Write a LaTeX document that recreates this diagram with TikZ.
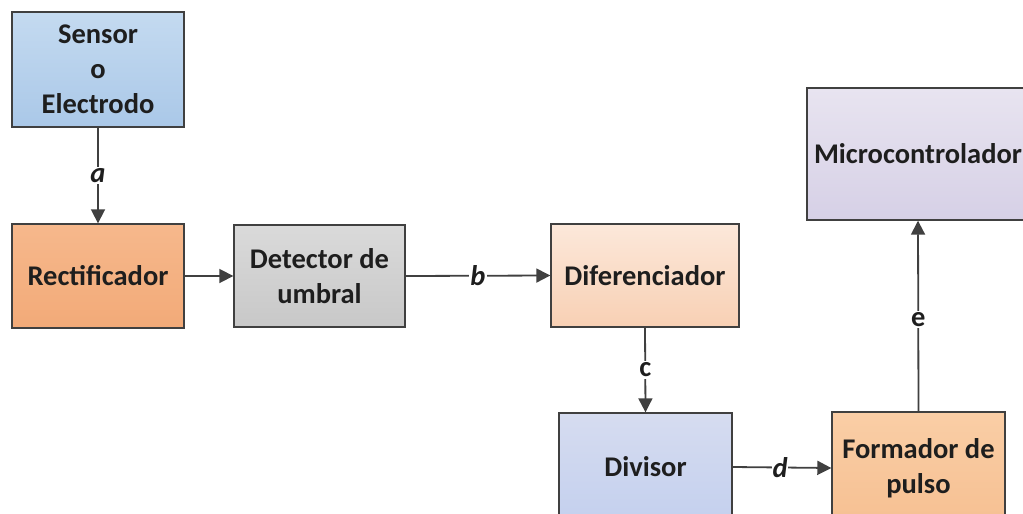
\documentclass[tikz,border=0pt]{standalone}
\usepackage{fontspec}
\setmainfont{Carlito}
\usetikzlibrary{arrows.meta,positioning}
\definecolor{edge}{HTML}{404040}
\definecolor{ink}{HTML}{1E1E1E}
\tikzset{
  block/.style={draw=edge, line width=1.4pt, inner sep=0pt, align=center,
    font=\fontsize{28.5}{35}\selectfont\bfseries, text=ink},
  link/.style={draw=edge, line width=1.8pt, -{Triangle[length=14pt,width=14pt]}},
  tag/.style={fill=white, inner sep=1.5pt, text=ink,
    font=\fontsize{28.5}{35}\selectfont\bfseries},
  itag/.style={tag, font=\fontsize{28.5}{35}\selectfont\bfseries\itshape},
}
\begin{document}
\begin{tikzpicture}[x=1pt,y=-1pt]
\clip (0,0) rectangle (1023,514);
\fill[white] (0,0) rectangle (1023,514);

% blocks
\node[block, top color={rgb,255:red,196;green,218;blue,240}, bottom color={rgb,255:red,170;green,200;blue,232},
      minimum width=172pt, minimum height=115pt] (sensor) at (98,69.5) {Sensor\\o\\Electrodo};
\node[block, top color={rgb,255:red,246;green,184;blue,140}, bottom color={rgb,255:red,242;green,170;blue,120},
      minimum width=172pt, minimum height=104pt] (rect) at (98,276) {Rectificador};
\node[block, top color={rgb,255:red,218;green,218;blue,218}, bottom color={rgb,255:red,200;green,200;blue,200},
      minimum width=171pt, minimum height=102pt] (det) at (319.5,276) {Detector de\\umbral};
\node[block, top color={rgb,255:red,252;green,232;blue,218}, bottom color={rgb,255:red,248;green,208;blue,180},
      minimum width=188pt, minimum height=103pt] (dif) at (645,275.5) {Diferenciador};
\node[block, top color={rgb,255:red,232;green,228;blue,240}, bottom color={rgb,255:red,214;green,208;blue,230},
      minimum width=222pt, minimum height=132pt] (micro) at (918,154) {Microcontrolador};
\node[block, top color={rgb,255:red,214;green,220;blue,240}, bottom color={rgb,255:red,196;green,208;blue,238},
      minimum width=173pt, minimum height=108pt] (div) at (645.5,467) {Divisor};
\node[block, top color={rgb,255:red,250;green,206;blue,166}, bottom color={rgb,255:red,246;green,192;blue,146},
      minimum width=173pt, minimum height=112pt] (form) at (918.5,468) {Formador de\\pulso};

% connectors
\draw[link] (sensor.south) -- node[itag] {a} (rect.north);
\draw[link] (rect.east) -- (det.west);
\draw[link] (det.east) -- node[itag, pos=0.5] {b} (dif.west);
\draw[link] (dif.south) -- node[tag] {c} (div.north);
\draw[link] (div.east) -- node[itag, pos=0.48, inner sep=0.5pt] {d} (form.west);
\draw[link] (form.north) -- node[tag, pos=0.48] {e} (micro.south);
\end{tikzpicture}
\end{document}
